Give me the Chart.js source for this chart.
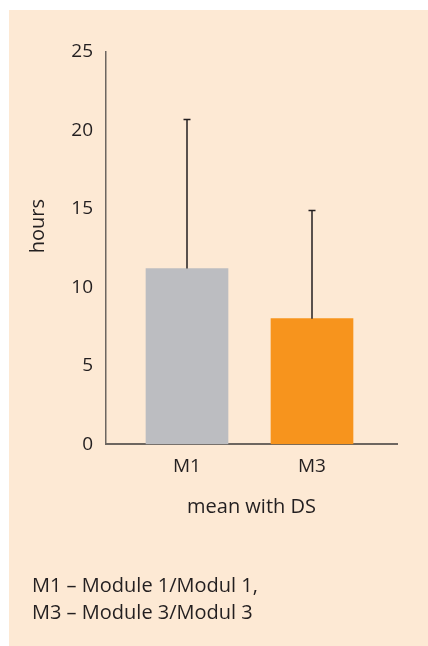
<!DOCTYPE html>
<html>
<head>
<meta charset="utf-8">
<script src="https://cdn.jsdelivr.net/npm/chart.js@4/dist/chart.umd.min.js"></script>
<style>
  html, body { margin: 0; padding: 0; background: #ffffff; }
  body { width: 428px; height: 646px; position: relative; overflow: hidden; font-family: "Open Sans", sans-serif; }
  #panel { position: absolute; left: 9px; top: 10px; width: 419px; height: 636px; background: #fde9d4; }
  #c { position: absolute; left: 0; top: 0; }
  #note { position: absolute; left: 23px; top: 561px; font-size: 20px; line-height: 27px; color: #231f20; white-space: nowrap; }
</style>
</head>
<body>
<div id="panel">
  <canvas id="c" width="419" height="636"></canvas>
  <div id="note">M1 – Module 1/Modul 1,<br>M3 – Module 3/Modul 3</div>
</div>
<script>
const categories = ['M1', 'M3'];
const means = [11.2, 8.0];
const sds = [9.5, 6.9];
const barColors = ['#bcbdc1', '#f7941d'];
const yTicks = [0, 5, 10, 15, 20, 25];
const yTitle = 'hours';
const xTitle = 'mean with DS';

const textColor = '#231f20';
const axisColor = '#6d6660';
const tickFont = { family: '"Open Sans", sans-serif', size: 19 };
const titleFont = { family: '"Open Sans", sans-serif', size: 20 };

const errorBars = {
  id: 'errorBars',
  afterDatasetsDraw(chart) {
    const meta = chart.getDatasetMeta(0);
    const ys = chart.scales.y;
    const ctx = chart.ctx;
    ctx.save();
    ctx.strokeStyle = textColor;
    ctx.lineWidth = 1.5;
    meta.data.forEach((bar, i) => {
      const top = ys.getPixelForValue(means[i] + sds[i]);
      ctx.beginPath();
      ctx.moveTo(bar.x, bar.y);
      ctx.lineTo(bar.x, top);
      ctx.moveTo(bar.x - 3.5, top);
      ctx.lineTo(bar.x + 3.5, top);
      ctx.stroke();
    });
    ctx.restore();
  }
};

const yTitlePlugin = {
  id: 'yTitle',
  afterDraw(chart) {
    const ctx = chart.ctx;
    const ys = chart.scales.y;
    ctx.save();
    ctx.fillStyle = textColor;
    ctx.font = titleFont.size + 'px ' + titleFont.family;
    ctx.textAlign = 'center';
    ctx.textBaseline = 'middle';
    ctx.translate(ys.left - 8, ys.getPixelForValue(13.9));
    ctx.rotate(-Math.PI / 2);
    ctx.fillText(yTitle, 0, 0);
    ctx.restore();
  }
};

new Chart(document.getElementById('c'), {
  type: 'bar',
  data: {
    datasets: [{
      data: means.map((m, i) => ({ x: i, y: m })),
      backgroundColor: barColors,
      barThickness: 82,
      borderWidth: 0
    }]
  },
  options: {
    responsive: false,
    animation: false,
    devicePixelRatio: 1,
    layout: { padding: { left: 37, right: 31, top: 42, bottom: 127 } },
    plugins: { legend: { display: false }, tooltip: { enabled: false } },
    scales: {
      x: {
        type: 'linear',
        offset: false,
        grace: 0,
        min: -0.648,
        max: 1.68,
        afterBuildTicks: (s) => { s.ticks = categories.map((c, i) => ({ value: i })); },
        grid: { display: false, drawTicks: false, tickLength: 0, offset: false },
        border: { display: true, color: axisColor, width: 2 },
        ticks: {
          autoSkip: false,
          maxRotation: 0,
          padding: 11,
          color: textColor,
          font: tickFont,
          callback: (v) => categories[v] !== undefined ? categories[v] : ''
        },
        title: { display: true, text: xTitle, color: textColor, font: titleFont, padding: { top: 6, bottom: 0 } }
      },
      y: {
        min: 0,
        max: 25,
        afterFit: (s) => { s.width = 60; },
        afterBuildTicks: (s) => { s.ticks = yTicks.map(v => ({ value: v })); },
        grid: { display: false, drawTicks: false, tickLength: 0 },
        border: { display: true, color: axisColor, width: 1.5 },
        ticks: { padding: 13, color: textColor, font: tickFont }
      }
    }
  },
  plugins: [errorBars, yTitlePlugin]
});
</script>
</body>
</html>
